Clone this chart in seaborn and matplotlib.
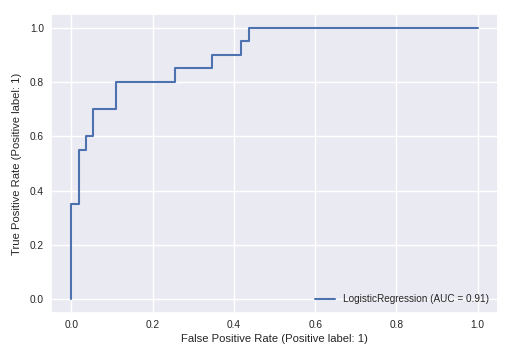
import matplotlib
matplotlib.use("Agg")
import matplotlib.pyplot as plt
import seaborn as sns
import pandas as pd

# ROC curve points (FPR, TPR)
fpr = [0, 0, 1/55, 1/55, 2/55, 2/55, 3/55, 3/55, 6/55, 6/55, 14/55, 14/55,
       19/55, 19/55, 23/55, 23/55, 24/55, 24/55, 1.0]
tpr = [0, 0.35, 0.35, 0.55, 0.55, 0.60, 0.60, 0.70, 0.70, 0.80, 0.80, 0.85,
       0.85, 0.90, 0.90, 0.95, 0.95, 1.0, 1.0]
label = "LogisticRegression (AUC = 0.91)"

sns.set_theme(style="darkgrid")
plt.rcParams['font.family'] = ['Liberation Sans', 'DejaVu Sans']

df = pd.DataFrame({"fpr": fpr, "tpr": tpr, "order": range(len(fpr))})

fig = plt.figure(figsize=(5.13, 3.55), dpi=100)
ax = fig.add_axes([51/513, 1 - 313/355, (498-51)/513, (313-14)/355])
sns.lineplot(data=df, x="fpr", y="tpr", sort=False, estimator=None, ax=ax,
             color="#4C72B0", linewidth=1.5, label=label)
ax.set_xlabel("False Positive Rate (Positive label: 1)", fontsize=8.1, labelpad=3)
ax.set_ylabel("True Positive Rate (Positive label: 1)", fontsize=8.1, labelpad=6)
ax.tick_params(labelsize=7.3, length=0, pad=5)
ax.set_xlim(-0.05, 1.05)
ax.set_ylim(-0.05, 1.05)
ax.set_xticks([0, 0.2, 0.4, 0.6, 0.8, 1.0])
ax.set_yticks([0, 0.2, 0.4, 0.6, 0.8, 1.0])
ax.legend(loc="lower right", fontsize=7.2, frameon=False)
fig.savefig("out.png", dpi=100)
